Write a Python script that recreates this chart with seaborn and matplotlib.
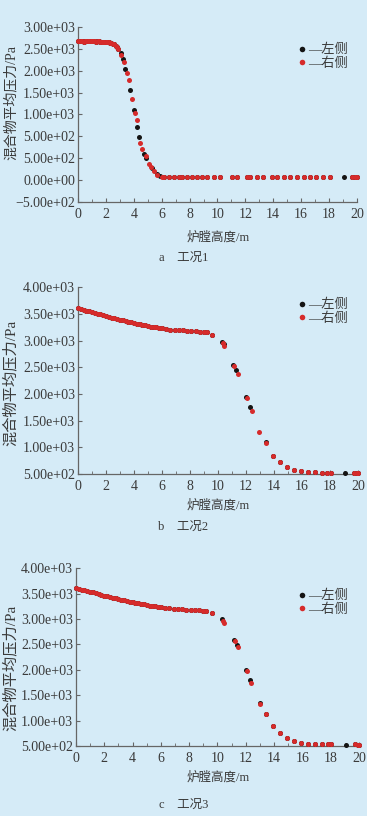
import numpy as np
import pandas as pd
import matplotlib
matplotlib.use("Agg")
import matplotlib.pyplot as plt
from matplotlib.lines import Line2D
import seaborn as sns

sns.set_style("ticks")
plt.rcParams['font.family'] = ['Liberation Serif', 'Noto Sans CJK SC', 'DejaVu Sans']

BG = "#d5ebf7"
BLACK = "#141414"
RED = "#d62b2b"

# ---- case 1 ----
a_flat_x = [0.0, 0.1, 0.2, 0.3, 0.4, 0.5, 0.6, 0.7, 0.8, 0.9, 1.0, 1.1, 1.2, 1.3, 1.4,
            1.5, 1.6, 1.7, 1.8, 1.9, 2.0, 2.1, 2.2, 2.3, 2.4, 2.5, 2.6, 2.7, 2.8, 2.9]
a_flat_y = [2710, 2710, 2712, 2710, 2708, 2710, 2711, 2710, 2709, 2710, 2710, 2712, 2710,
            2708, 2710, 2709, 2707, 2705, 2703, 2700, 2698, 2694, 2690, 2684, 2676, 2666,
            2650, 2628, 2598, 2555]
a_drop_left_x = [3.05, 3.2, 3.35, 3.75, 4.05, 4.25, 4.4, 4.75, 4.9, 5.3, 5.65, 5.9]
a_drop_left_y = [2480, 2360, 2150, 1740, 1340, 1000, 800, 450, 370, 170, 50, 10]
a_drop_right_x = [3.1, 3.3, 3.5, 3.65, 3.9, 4.1, 4.2, 4.45, 4.6, 4.85, 5.1, 5.2, 5.45, 5.7, 6.0]
a_drop_right_y = [2440, 2300, 2080, 1940, 1560, 1280, 1130, 680, 560, 420, 250, 200, 110, 45, 8]
a_tail_x = [6.14, 6.5, 6.86, 7.22, 7.46, 7.81, 8.17, 8.53, 8.89, 9.25, 9.73, 10.2, 11.04,
            11.4, 12.1, 12.35, 12.83, 13.3, 13.9, 14.27, 14.74, 15.2, 15.7, 16.2, 16.65,
            17.1, 17.6, 18.1, 19.64, 19.88, 20.0]
a_tail_y = [0] * len(a_tail_x)
a_extra_left_x = [19.05]
a_extra_left_y = [0]

# ---- case 2 and 3: common slow decline ----
slope_x = [0.0, 0.2, 0.4, 0.6, 0.8, 1.0, 1.2, 1.4, 1.6, 1.8, 2.0, 2.2, 2.4, 2.6, 2.8, 3.0,
           3.2, 3.4, 3.6, 3.8, 4.0, 4.2, 4.4, 4.6, 4.8, 5.0, 5.2, 5.4, 5.6, 5.8, 6.0, 6.3,
           6.6, 6.9, 7.2, 7.5, 7.8, 8.1, 8.4, 8.7, 9.0, 9.2, 9.6]
slope_y = [3610, 3590, 3575, 3562, 3548, 3534, 3520, 3505, 3490, 3475, 3460, 3446, 3432,
           3418, 3404, 3390, 3378, 3365, 3352, 3340, 3328, 3317, 3306, 3295, 3284, 3273,
           3264, 3255, 3246, 3237, 3229, 3218, 3208, 3200, 3195, 3190, 3183, 3178, 3175,
           3170, 3163, 3155, 3111]

b_drop_left_x = [10.3, 10.4, 11.1, 11.3, 12.0, 12.3, 13.4]
b_drop_left_y = [2974, 2930, 2550, 2446, 1940, 1750, 1095]
b_drop_right_x = [10.35, 10.45, 11.15, 11.4, 12.05, 12.4, 12.95, 13.45]
b_drop_right_y = [2960, 2893, 2520, 2371, 1920, 1675, 1283, 1085]
b_tail_x = [13.9, 14.4, 14.9, 15.4, 15.9, 16.4, 16.9, 17.4, 17.8, 18.1, 19.7, 19.9, 20.0]
b_tail_y = [848, 724, 630, 580, 550, 537, 532, 528, 526, 525, 525, 523, 520]

c_drop_left_x = [10.3, 11.2, 11.4, 12.05, 12.3, 13.0, 13.4]
c_drop_left_y = [2994, 2586, 2480, 1993, 1796, 1340, 1137]
c_drop_right_x = [10.4, 10.45, 11.25, 11.45, 12.1, 12.4, 13.0, 13.45]
c_drop_right_y = [2960, 2928, 2570, 2441, 1980, 1743, 1320, 1130]
c_tail_x = [13.9, 14.4, 14.9, 15.4, 15.9, 16.4, 16.9, 17.4, 17.8, 18.0, 19.7, 19.9, 20.0]
c_tail_y = [888, 757, 658, 592, 559, 546, 540, 535, 532, 530, 530, 528, 525]

extra_bc_x = [19.1]
extra_bc_y = [528]

a_ticks = [3000, 2562.5, 2125, 1687.5, 1250, 812.5, 375, -62.5, -500]
a_ticklabels = ["3.00e+03", "2.50e+03", "2.00e+03", "1.50e+03", "1.00e+03",
                "5.00e+02", "5.00e+02", "0.00e+00", "\u22125.00e+02"]
bc_ticks = [4000, 3500, 3000, 2500, 2000, 1500, 1000, 500]
bc_ticklabels = ["4.00e+03", "3.50e+03", "3.00e+03", "2.50e+03", "2.00e+03",
                 "1.50e+03", "1.00e+03", "5.00e+02"]
x_ticks = [0, 2, 4, 6, 8, 10, 12, 14, 16, 18, 20]

panels = [
    dict(rect=[0.2125, 0.7525, 0.760, 0.2145],
         left=(a_flat_x + a_drop_left_x + a_tail_x + a_extra_left_x,
               a_flat_y + a_drop_left_y + a_tail_y + a_extra_left_y),
         right=(a_flat_x + a_drop_right_x + a_tail_x,
                a_flat_y + a_drop_right_y + a_tail_y),
         ylim=(-500, 3000), ticks=a_ticks, labels=a_ticklabels,
         ylab=(11, 102, 10), xlab_y=237, cap_y=258, cap="a\u2003工况1", leg_y=57),
    dict(rect=[0.2125, 0.419, 0.763, 0.229],
         left=(slope_x + b_drop_left_x + b_tail_x + extra_bc_x,
               slope_y + b_drop_left_y + b_tail_y + extra_bc_y),
         right=(slope_x + b_drop_right_x + b_tail_x,
                slope_y + b_drop_right_y + b_tail_y),
         ylim=(500, 4000), ticks=bc_ticks, labels=bc_ticklabels,
         ylab=(10, 383, 11), xlab_y=505, cap_y=527, cap="b\u2003工况2", leg_y=312),
    dict(rect=[0.207, 0.0858, 0.771, 0.218],
         left=(slope_x + c_drop_left_x + c_tail_x + extra_bc_x,
               slope_y + c_drop_left_y + c_tail_y + extra_bc_y),
         right=(slope_x + c_drop_right_x + c_tail_x,
                slope_y + c_drop_right_y + c_tail_y),
         ylim=(500, 4000), ticks=bc_ticks, labels=bc_ticklabels,
         ylab=(10, 668, 11), xlab_y=777, cap_y=805, cap="c\u2003工况3", leg_y=603),
]

W, H = 367, 816
fig = plt.figure(figsize=(W / 100, H / 100), dpi=100)
fig.patch.set_facecolor(BG)

TXT = "#3a3a3a"
for p in panels:
    ax = fig.add_axes(p["rect"])
    ax.set_facecolor(BG)
    sns.scatterplot(x=p["left"][0], y=p["left"][1], ax=ax, color=BLACK, s=13,
                    linewidth=0, zorder=3, clip_on=False)
    sns.scatterplot(x=p["right"][0], y=p["right"][1], ax=ax, color=RED, s=13,
                    linewidth=0, zorder=4, clip_on=False)
    ax.set_xlim(0, 20)
    ax.set_ylim(*p["ylim"])
    ax.set_xticks(x_ticks)
    ax.set_xticks(range(0, 21), minor=True)
    ax.set_yticks(p["ticks"])
    ax.set_yticklabels(p["labels"])
    ax.tick_params(axis="both", labelsize=10, colors="#666666", labelcolor=TXT,
                   direction="in", length=3, width=0.8, pad=2)
    ax.tick_params(axis="x", which="minor", direction="in", length=2, width=0.6,
                   colors="#666666")
    ax.tick_params(axis="x", pad=4)
    for s in ["top", "right"]:
        ax.spines[s].set_visible(False)
    for s in ["left", "bottom"]:
        ax.spines[s].set_color("#666666")
        ax.spines[s].set_linewidth(0.9)
    ax.set_xlabel("")
    ax.set_ylabel("")

    lx, ly, lfs = p["ylab"]
    fig.text(lx / W, 1 - ly / H, "混合物平均压力/Pa", rotation=90, ha="center",
             va="center", fontsize=lfs, color=TXT)
    fig.text(0.595, 1 - p["xlab_y"] / H, "炉膛高度/m", ha="center", va="center",
             fontsize=9, color=TXT)
    fig.text(0.50, 1 - p["cap_y"] / H, p["cap"], ha="center", va="center",
             fontsize=9, color=TXT)

    handles = [Line2D([], [], ls="", marker="o", ms=4, color=BLACK, mew=0),
               Line2D([], [], ls="", marker="o", ms=4, color=RED, mew=0)]
    fig.legend(handles, ["\u2014左侧", "\u2014右侧"], loc="center left",
               bbox_to_anchor=(290 / W, 1 - p["leg_y"] / H), frameon=False,
               fontsize=9.5, handletextpad=0.1, handlelength=0.8,
               labelspacing=0.1, borderpad=0, labelcolor=TXT)

fig.savefig("out.png", dpi=100, facecolor=BG)
plt.close("all")
